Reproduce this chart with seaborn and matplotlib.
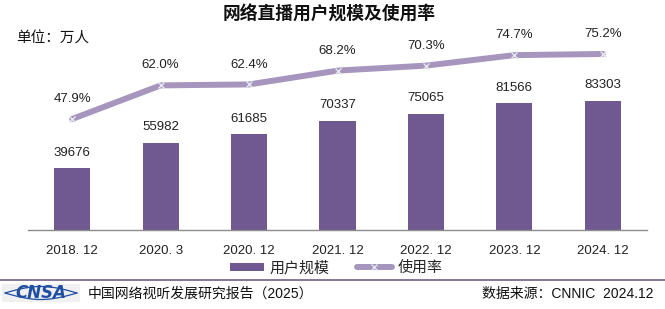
import matplotlib
matplotlib.use("Agg")
import matplotlib.pyplot as plt
import seaborn as sns
import pandas as pd
import numpy as np
from matplotlib.patches import Patch
from matplotlib.lines import Line2D

categories = ["2018. 12", "2020. 3", "2020. 12", "2021. 12", "2022. 12", "2023. 12", "2024. 12"]
users = [39676, 55982, 61685, 70337, 75065, 81566, 83303]
rates = [47.9, 62.0, 62.4, 68.2, 70.3, 74.7, 75.2]

sns.set_theme(style="white")
FONTS = ["Liberation Sans", "Noto Sans CJK SC", "DejaVu Sans"]
plt.rcParams["font.family"] = FONTS

BAR = "#705890"
LINE = "#a696be"

W, H = 665, 309
fig = plt.figure(figsize=(W / 100, H / 100), dpi=100)
ax = fig.add_axes([28 / W, 1 - 230 / H, (647 - 28) / W, 200 / H])

df = pd.DataFrame({"cat": categories, "users": users, "rate": rates})
sns.barplot(data=df, x="cat", y="users", color=BAR, width=0.41, ax=ax,
            saturation=1, edgecolor="none")
ax.set_ylim(0, 128900)
ax.set_xlim(-0.5, len(categories) - 0.5)

ax2 = ax.twinx()
sns.lineplot(data=df, x="cat", y="rate", ax=ax2, color=LINE, linewidth=4.3,
             marker="x", markersize=5, markeredgecolor="#e6e6ee",
             markeredgewidth=1.0, sort=False)
ax2.set_ylim(1.26, 85.26)
ax2.set_xlim(-0.5, len(categories) - 0.5)

for a in (ax, ax2):
    for s in a.spines.values():
        s.set_visible(False)
    a.set_yticks([])
    a.set_ylabel("")
    a.set_xlabel("")
    a.grid(False)
ax.spines["bottom"].set_visible(True)
ax.spines["bottom"].set_color("#8c8c8c")
ax.spines["bottom"].set_linewidth(1.0)

ax.set_xticks(range(len(categories)))
ax.set_xticklabels(categories, fontsize=9.5, color="#222222")
ax.tick_params(axis="x", which="major", length=0, pad=11)
ax.set_xticks(np.arange(-0.5, len(categories), 1.0), minor=True)
ax.tick_params(axis="x", which="minor", direction="in", length=5, color="#8c8c8c", width=1)

for i, v in enumerate(users):
    ax.annotate(f"{v}", (i, v), xytext=(0, 7), textcoords="offset points",
                ha="center", va="bottom", fontsize=9.5, color="#222222")
for i, v in enumerate(rates):
    ax2.annotate(f"{v:.1f}%", (i, v), xytext=(0, 10), textcoords="offset points",
                 ha="center", va="bottom", fontsize=9.5, color="#222222")

fig.text(329 / W, 1 - 15 / H, "网络直播用户规模及使用率", ha="center", va="center",
         fontsize=12.8, fontweight="bold", color="#111111")
fig.text(16 / W, 1 - 39 / H, "单位：万人", ha="left", va="center",
         fontsize=10.5, color="#111111")

handles = [Patch(facecolor=BAR, edgecolor="none"),
           Line2D([0], [0], color=LINE, linewidth=4.3, marker="x", markersize=5,
                  markeredgecolor="#e6e6ee")]
fig.legend(handles, ["用户规模", "使用率"], loc="center", ncol=2,
           bbox_to_anchor=(336 / W, 1 - 268 / H), frameon=False, fontsize=10.8,
           handlelength=2.3, handleheight=0.5, columnspacing=1.8, handletextpad=0.4)

# separator line
fig.add_artist(Line2D([0, 1], [1 - 280 / H, 1 - 280 / H], color="#6f5f8a",
                      linewidth=1.2, transform=fig.transFigure))

fig.text(88 / W, 1 - 294 / H, "中国网络视听发展研究报告（2025）", ha="left", va="center",
         fontsize=10, color="#111111")
fig.text(653 / W, 1 - 294 / H, "数据来源：CNNIC  2024.12", ha="right", va="center",
         fontsize=10, color="#111111")

# CNSA logo
lax = fig.add_axes([2 / W, 1 - 302 / H, 78 / W, 18 / H])
lax.set_xlim(0, 78)
lax.set_ylim(0, 18)
lax.axis("off")
lax.add_patch(plt.Rectangle((0, 0), 78, 18, color="#f0f0f0", zorder=0))
t = np.linspace(0, 1, 60)
xs = 3 + 72 * t
ys_top = 9 + 6.5 * np.sin(np.pi * t)
ys_bot = 9 - 6.5 * np.sin(np.pi * t)
lax.plot(xs, ys_top, color="#1f4fa3", linewidth=0.9)
lax.plot(xs, ys_bot, color="#1f4fa3", linewidth=0.9)
lax.text(39, 9, "CNSA", ha="center", va="center", fontsize=12, fontweight="bold",
         fontstyle="italic", color="#1f4fa3", family="DejaVu Sans")

fig.savefig("out.png", dpi=100)
